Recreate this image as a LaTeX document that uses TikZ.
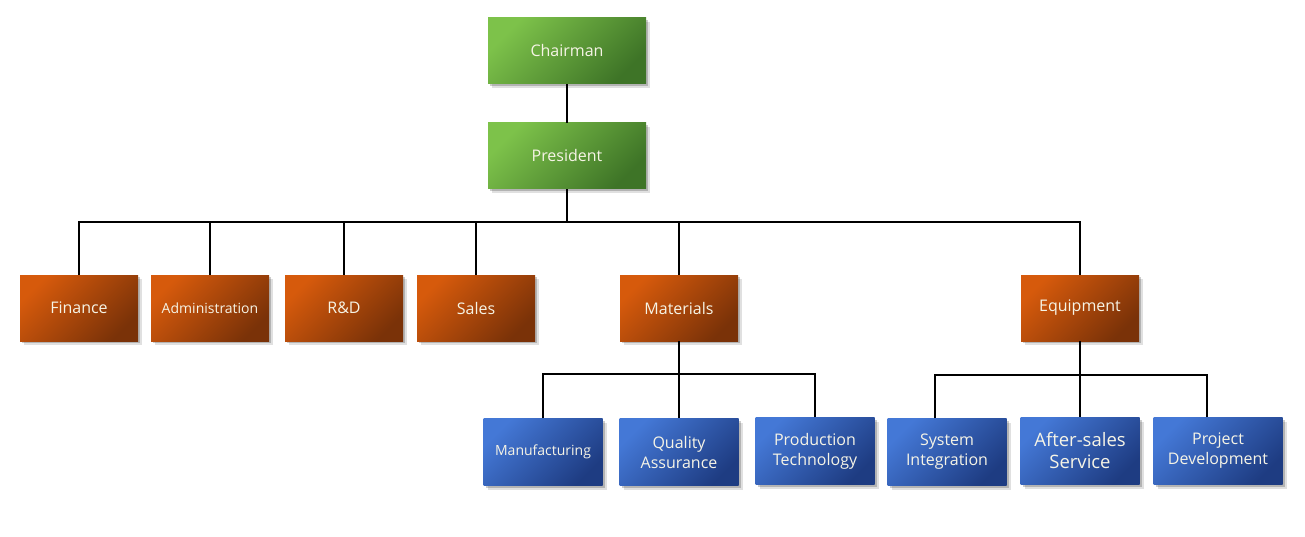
\documentclass[tikz,border=0pt]{standalone}
\usepackage{fontspec}
\setmainfont{Open Sans}
\usetikzlibrary{shadows}

\definecolor{greenA}{HTML}{7DC24A}
\definecolor{greenB}{HTML}{3E7427}
\definecolor{orangeA}{HTML}{D65A0C}
\definecolor{orangeB}{HTML}{7A3208}
\definecolor{blueA}{HTML}{4478D6}
\definecolor{blueB}{HTML}{1E3C82}
\definecolor{boxtext}{HTML}{F6F4E6}

\tikzset{
    unit/.style={inner sep=2pt, align=center, text=boxtext,
        font=\fontsize{16}{20}\selectfont,
        minimum height=66pt, shading angle=45,
        drop shadow={shadow xshift=4pt, shadow yshift=-4pt, opacity=.12, fill=black},
        drop shadow={shadow xshift=2pt, shadow yshift=-2pt, opacity=.2, fill=black}},
    topunit/.style={unit, top color=greenA, bottom color=greenB, shading angle=45, minimum width=158pt},
    deptunit/.style={unit, top color=orangeA, bottom color=orangeB, shading angle=45, minimum width=118pt},
    subunit/.style={unit, top color=blueA, bottom color=blueB, shading angle=45, minimum width=119pt, minimum height=67pt},
    link/.style={black, line width=2.4pt}
}

\begin{document}
\begin{tikzpicture}[x=1pt, y=-1pt]
        \useasboundingbox (0,0) rectangle (1305,537);

        % top
        \node[topunit] (chair) at (567, 51) {Chairman};
        \node[topunit] (pres) at (567, 156) {President};

        % departments
        \node[deptunit] (fin) at (79, 308) {Finance};
        \node[deptunit, font=\fontsize{14}{17}\selectfont] (adm) at (210, 308) {Administration};
        \node[deptunit] (rd) at (344, 308) {R\&D};
        \node[deptunit] (sal) at (476, 308) {Sales};
        \node[deptunit] (mat) at (679, 308) {Materials};
        \node[deptunit] (equ) at (1080, 308) {Equipment};

        % sub units
        \node[subunit, font=\fontsize{14}{17}\selectfont] (man) at (543, 452) {Manufacturing};
        \node[subunit] (qa) at (679, 452) {Quality\\Assurance};
        \node[subunit] (pt) at (815, 451) {Production\\Technology};
        \node[subunit] (si) at (947, 452) {System\\Integration};
        \node[subunit, font=\fontsize{18.5}{22}\selectfont] (as) at (1080, 451) {After-sales\\Service};
        \node[subunit, minimum width=129pt] (pd) at (1218, 451) {Project\\Development};

        \coordinate (bus) at (567, 222);
        \coordinate (matbus) at (679, 374);
        \coordinate (equbus) at (1081, 375);

        \draw[link] (chair) -- (pres);
        \draw[link] (pres) -- (bus);
        \foreach \d in {fin,adm,rd,sal,mat,equ}
            \draw[link] (\d.north) |- (bus);

        \draw[link] (mat) -- (qa);
        \foreach \s in {man,pt}
            \draw[link] (\s.north) |- (matbus);

        \draw[link] (equ) -- (as);
        \draw[link] (si.north) ++(-12,0) |- (equbus);
        \draw[link] (pd.north) ++(-11,0) |- (equbus);
    \end{tikzpicture}
\end{document}
